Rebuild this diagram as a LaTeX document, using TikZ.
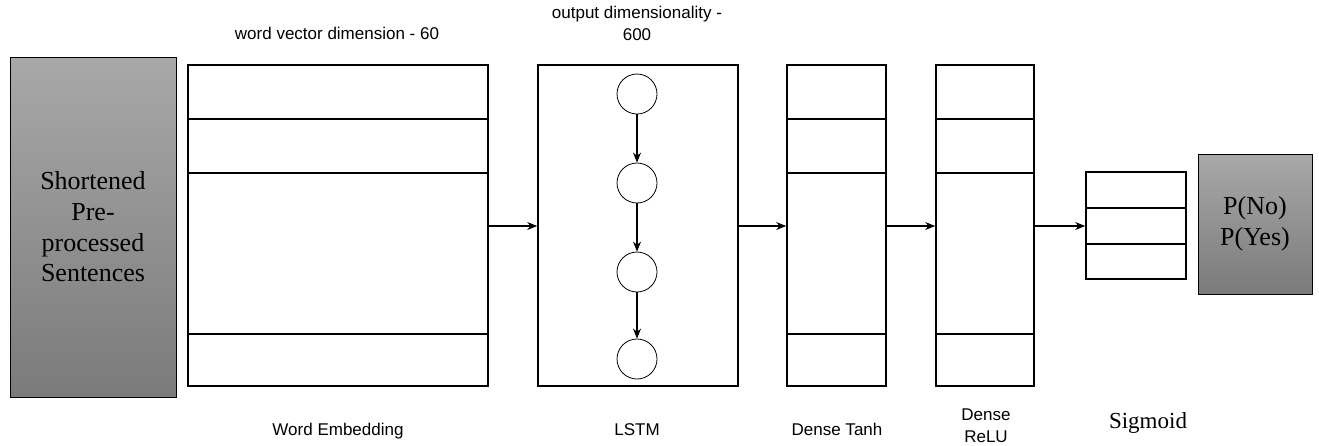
\documentclass[tikz,border=0pt]{standalone}
\usepackage{fontspec}
\setmainfont{Liberation Serif}
\setsansfont{Liberation Sans}
\usetikzlibrary{arrows.meta}

\begin{document}
\begin{tikzpicture}
[
    x=1pt, y=-1pt,
    layer/.style={draw, line width=1.6pt, inner sep=0pt, minimum height=321pt},
    grey box/.style={draw, line width=0.9pt, top color=black!34, bottom color=black!52, inner sep=0pt, align=center, font=\fontsize{26}{30.7}\selectfont},
    cell/.style={draw, circle, line width=0.8pt, minimum size=40pt, inner sep=0pt},
    flow/.style={-{Stealth[length=10pt, width=8pt]}, line width=1.1pt},
    caption/.style={font=\sffamily\fontsize{17}{22}\selectfont, align=center},
]
\useasboundingbox (0,0) rectangle (1319,445);

\node [grey box, minimum width=166pt, minimum height=340pt] (input) at (93,227)
{Shortened\\Pre-\\processed\\Sentences};
\node [layer, minimum width=300pt] (emb) at (338,225.5) {};
\node [layer, minimum width=200pt] (lstm) at (638,225.5) {};
\node [layer, minimum width=99pt] (tanh) at (836.5,225.5) {};
\node [layer, minimum width=98pt] (relu) at (985,225.5) {};
\node [layer, minimum width=100pt, minimum height=107pt] (sig) at (1136,225.5) {};
\node [grey box, minimum width=114pt, minimum height=140pt] (out) at (1255,224)
{P(No)\\P(Yes)};

\foreach \b in {emb, tanh, relu}
    \foreach \y in {119, 173, 334}
        \draw [line width=1.6pt] (\b.west |- 0,\y) -- (\b.east |- 0,\y);
\foreach \y in {208, 244}
    \draw [line width=1.6pt] (sig.west |- 0,\y) -- (sig.east |- 0,\y);

\node [cell] (c1) at (637,94) {};
\node [cell] (c2) at (637,183) {};
\node [cell] (c3) at (637,272) {};
\node [cell] (c4) at (637,359) {};
\draw [flow] (c1) -- (c2);
\draw [flow] (c2) -- (c3);
\draw [flow] (c3) -- (c4);

\draw [flow] (emb.east |- 0,226) -- (lstm.west |- 0,226);
\draw [flow] (lstm.east |- 0,226) -- (tanh.west |- 0,226);
\draw [flow] (tanh.east |- 0,226) -- (relu.west |- 0,226);
\draw [flow] (relu.east |- 0,226) -- (sig.west |- 0,226);

\node [caption] (embtop) at (337,33) {word vector dimension - 60};
\node [caption] (lstmtop) at (637,23) {output dimensionality -\\600};
\node [caption, anchor=base] (embname) at (338,435) {Word Embedding};
\node [caption, anchor=base] (lstmname) at (637,435) {LSTM};
\node [caption, anchor=base] (tanhname) at (837,435) {Dense Tanh};
\node [caption] (reluname) at (986,426) {Dense\\ReLU};
\node [font=\fontsize{23}{27}\selectfont, anchor=base] (signame) at (1148,428) {Sigmoid};
\end{tikzpicture}
\end{document}
